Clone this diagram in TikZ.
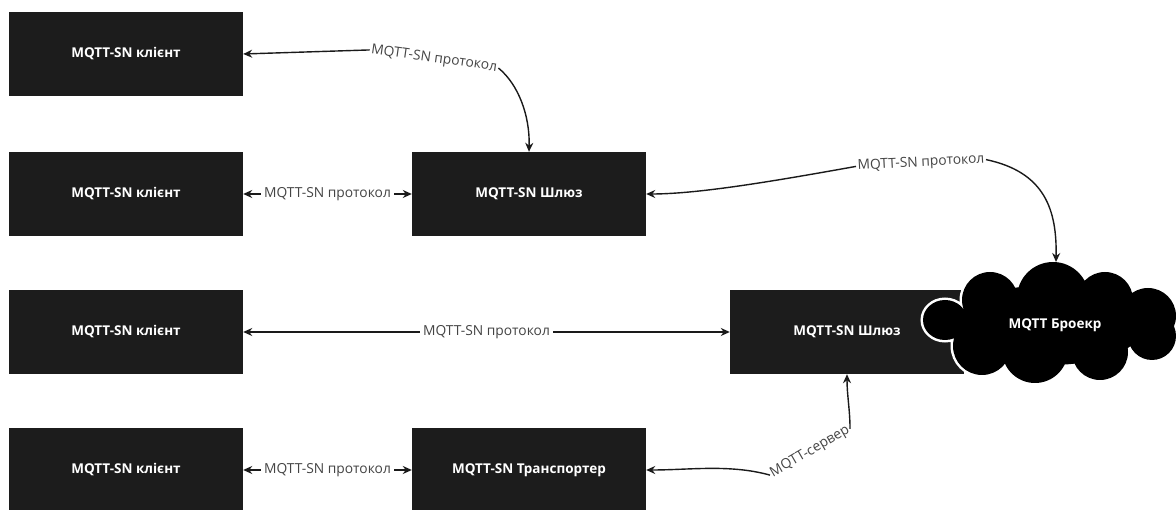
\documentclass[tikz,border=0pt]{standalone}
\usepackage{fontspec}
\setmainfont{Open Sans}
\usetikzlibrary{arrows.meta}
\definecolor{boxfill}{HTML}{1C1C1C}
\definecolor{linecol}{HTML}{1A1A1A}
\definecolor{labelcol}{HTML}{444444}
\tikzset{
  block/.style={fill=boxfill, draw=none, minimum width=234pt, minimum height=84pt, inner sep=0pt,
    text=white, font=\fontsize{13.5}{15}\selectfont\bfseries},
  conn/.style={draw=linecol, line width=1.4pt, -{Stealth[length=9pt,width=8pt]}},
  biconn/.style={draw=linecol, line width=1.4pt, {Stealth[length=9pt,width=8pt]}-{Stealth[length=9pt,width=8pt]}},
  lbl/.style={text=labelcol, font=\fontsize{13.8}{15}\selectfont, inner sep=1.5pt},
  midlbl/.style={lbl, fill=white, inner sep=3pt},
  cloudtext/.style={text=white, font=\fontsize{13.5}{15}\selectfont\bfseries, inner sep=0pt},
}
\newcommand{\cloudpath}{%
  (990,300) circle[radius=28]
  (1053,298) circle[radius=36]
  (1105,300) circle[radius=28]
  (1148,316) circle[radius=28]
  (945,320) ellipse[x radius=22, y radius=20]
  (982,346) circle[radius=29]
  (1035,350) circle[radius=33]
  (1100,352) circle[radius=28]
  (1152,336) circle[radius=24]
  (1050,325) ellipse[x radius=95, y radius=40]}
\begin{document}
\begin{tikzpicture}[x=1pt,y=-1pt]
\useasboundingbox (0,0) rectangle (1176,510);
% boxes
\node[block] (c1) at (126,54) {MQTT-SN клієнт};
\node[block] (c2) at (126,194) {MQTT-SN клієнт};
\node[block] (g1) at (529,194) {MQTT-SN Шлюз};
\node[block] (c3) at (126,332) {MQTT-SN клієнт};
\node[block] (g2) at (847,332) {MQTT-SN Шлюз};
\node[block] (c4) at (126,470) {MQTT-SN клієнт};
\node[block] (t) at (529,470) {MQTT-SN Транспортер};
% cloud
\draw[white, line width=5pt] \cloudpath;
\fill[black] \cloudpath;
\node[cloudtext] (cl) at (1055,325) {MQTT Броекр};
\coordinate (cltop) at (1056,262);
% labels
\node[lbl, rotate=-8] (l1) at (434,59) {MQTT-SN протокол};
\node[lbl, rotate=3] (l3) at (921,163) {MQTT-SN протокол};
\node[lbl, rotate=30] (l5) at (810,452) {MQTT-сервер};
% connectors
\draw[conn] (l1.west) -- (c1.east);
\draw[conn] (l1.east) .. controls (518,84) and (530,115) .. (g1.north);
\draw[biconn] (c2.east) -- (g1.west) node[midlbl, midway] {MQTT-SN протокол};
\draw[biconn] (c3.east) -- (g2.west) node[midlbl, midway] {MQTT-SN протокол};
\draw[biconn] (c4.east) -- (t.west) node[midlbl, midway] {MQTT-SN протокол};
\draw[conn] (l3.west) .. controls (780,180) and (700,194) .. (g1.east);
\draw[conn] (l3.east) .. controls (1045,172) and (1057,210) .. (cltop);
\draw[conn] (l5.west) .. controls (730,464) and (690,470) .. (t.east);
\draw[conn] (l5.east) .. controls (850,410) and (847,395) .. (g2.south);
\end{tikzpicture}
\end{document}
